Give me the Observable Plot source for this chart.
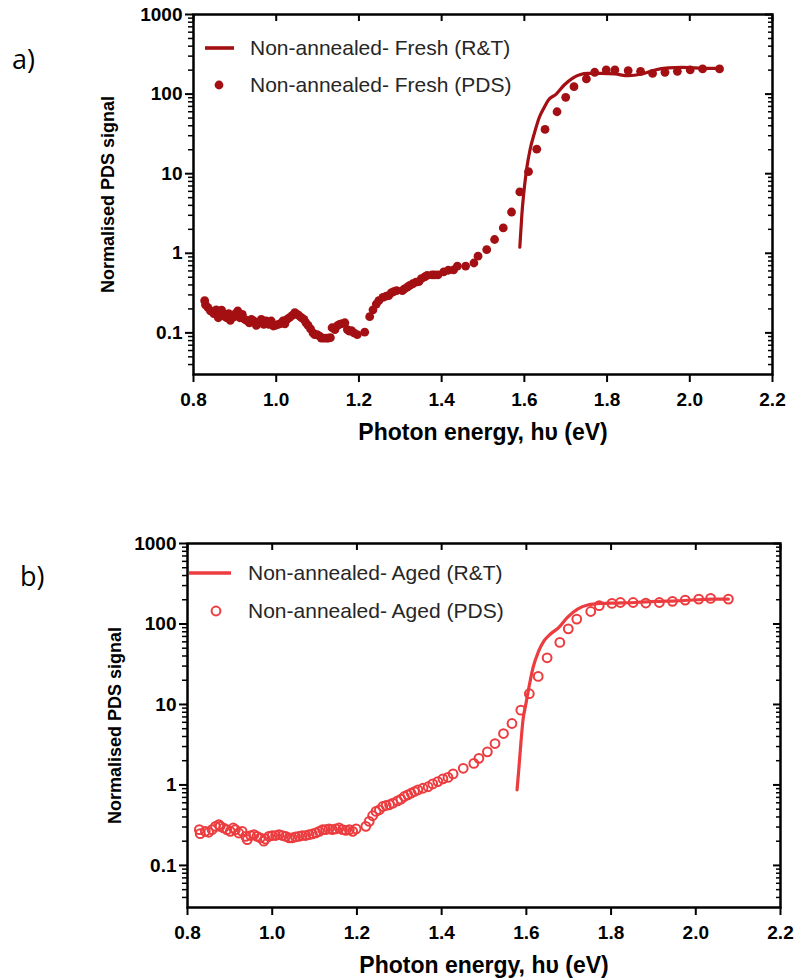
<!DOCTYPE html>
<html>
<head>
<meta charset="utf-8">
<script src="https://cdn.jsdelivr.net/npm/d3@7"></script>
<script src="https://cdn.jsdelivr.net/npm/@observablehq/plot@0.6"></script>
<style>
  body { margin: 0; background: #fff; }
  #page { position: relative; width: 794px; height: 980px; overflow: hidden; font-family: "Liberation Sans", Arial, sans-serif; }
  .panel { position: absolute; left: 0; }
  .tag { position: absolute; font-family: "Open Sans", "Liberation Sans", sans-serif; font-size: 27px; line-height: 1; color: #000; }
  .legend { position: absolute; font-family: "Liberation Sans", Arial, sans-serif; font-size: 21px; color: #262626; }
  .legend .row { position: absolute; white-space: nowrap; line-height: 1; }
  .legend svg { position: absolute; overflow: visible; }
</style>
</head>
<body>
<div id="page"></div>
<script>
// ---------------- data ----------------
const xTicks = [0.8, 1.0, 1.2, 1.4, 1.6, 1.8, 2.0, 2.2];
const yMajor = [0.1, 1, 10, 100, 1000];
const yMinor = [0.04, 0.05, 0.06, 0.07, 0.08, 0.09, 0.2, 0.3, 0.4, 0.5, 0.6, 0.7, 0.8, 0.9,
  2, 3, 4, 5, 6, 7, 8, 9, 20, 30, 40, 50, 60, 70, 80, 90, 200, 300, 400, 500, 600, 700, 800, 900];
const xTitle = "Photon energy, h\u03C5 (eV)";
const yTitle = "Normalised PDS signal";
const seriesNames = {
  freshLine: "Non-annealed- Fresh (R&T)",
  freshDots: "Non-annealed- Fresh (PDS)",
  agedLine: "Non-annealed- Aged (R&T)",
  agedDots: "Non-annealed- Aged (PDS)"
};

// Panel a: fresh, PDS points [energy eV, signal]
const freshPDS = [
  [0.827,0.254],[0.829,0.225],[0.835,0.208],[0.841,0.189],[0.849,0.175],[0.855,0.195],[0.860,0.155],[0.863,0.180],
  [0.868,0.193],[0.873,0.163],[0.880,0.155],[0.885,0.175],[0.889,0.144],[0.896,0.158],[0.902,0.175],[0.907,0.189],
  [0.912,0.155],[0.918,0.171],[0.924,0.148],[0.930,0.141],[0.935,0.134],[0.940,0.148],[0.946,0.141],[0.952,0.124],
  [0.958,0.134],[0.964,0.148],[0.970,0.128],[0.976,0.141],[0.982,0.128],[0.988,0.141],[0.993,0.122],[0.998,0.124],
  [1.005,0.128],[1.010,0.131],[1.016,0.141],[1.021,0.130],[1.026,0.148],[1.032,0.155],[1.039,0.166],[1.045,0.180],
  [1.051,0.171],[1.056,0.163],[1.061,0.155],[1.067,0.148],[1.072,0.134],[1.077,0.124],[1.083,0.112],[1.089,0.100],
  [1.093,0.095],[1.099,0.095],[1.105,0.091],[1.109,0.086],[1.115,0.086],[1.121,0.086],[1.126,0.086],[1.131,0.087],
  [1.135,0.116],[1.142,0.110],[1.147,0.122],[1.153,0.128],[1.159,0.131],[1.166,0.134],[1.172,0.110],[1.177,0.105],
  [1.182,0.107],[1.188,0.100],[1.196,0.095],[1.214,0.102],[1.226,0.160],[1.234,0.195],[1.242,0.230],[1.248,0.254],
  [1.258,0.280],[1.266,0.290],[1.272,0.294],[1.278,0.318],[1.284,0.330],[1.291,0.340],[1.305,0.340],[1.310,0.357],
  [1.317,0.375],[1.323,0.394],[1.330,0.414],[1.338,0.435],[1.345,0.440],[1.351,0.480],[1.359,0.504],[1.365,0.529],
  [1.377,0.535],[1.383,0.535],[1.391,0.535],[1.405,0.583],[1.416,0.612],[1.429,0.620],[1.438,0.690],[1.458,0.690],
  [1.478,0.755],[1.488,0.920],[1.509,1.11],[1.528,1.49],[1.549,2.08],[1.569,3.3],[1.589,5.9],[1.610,10.6],
  [1.630,20.3],[1.650,36],[1.679,60],[1.700,91],[1.720,124],[1.750,155],[1.770,188],[1.798,201],
  [1.819,201],[1.851,197],[1.881,193],[1.910,182],[1.940,188],[1.970,193],[2.001,201],[2.031,207],[2.072,207]
];
// Panel a: fresh, R&T curve
const freshRT = [
  [1.589,1.19],[1.594,3.07],[1.600,6.7],[1.606,11.9],[1.614,20.3],[1.624,31.9],[1.636,50.8],[1.648,68],
  [1.658,84],[1.677,100],[1.697,131],[1.717,159],[1.734,175],[1.754,182],[1.786,182],[1.819,179],
  [1.851,170],[1.884,179],[1.916,201],[1.948,213],[1.981,217],[2.013,213],[2.046,211],[2.072,211]
];
// Panel b: aged, PDS points
const agedPDS = [
  [0.828,0.278],[0.830,0.248],[0.842,0.265],[0.850,0.258],[0.858,0.278],[0.866,0.306],[0.874,0.321],[0.877,0.306],
  [0.885,0.292],[0.893,0.278],[0.901,0.265],[0.908,0.292],[0.913,0.278],[0.921,0.253],[0.929,0.265],[0.937,0.230],
  [0.941,0.209],[0.949,0.235],[0.957,0.241],[0.964,0.230],[0.972,0.220],[0.980,0.200],[0.984,0.213],[0.992,0.230],
  [1.000,0.235],[1.008,0.235],[1.016,0.241],[1.024,0.235],[1.032,0.230],[1.040,0.220],[1.047,0.220],[1.055,0.226],
  [1.063,0.230],[1.071,0.235],[1.079,0.235],[1.087,0.241],[1.095,0.246],[1.103,0.254],[1.111,0.265],[1.119,0.278],
  [1.126,0.278],[1.134,0.284],[1.142,0.278],[1.150,0.284],[1.158,0.292],[1.166,0.278],[1.174,0.273],[1.182,0.278],
  [1.190,0.265],[1.198,0.284],[1.221,0.306],[1.229,0.352],[1.237,0.414],[1.245,0.469],[1.253,0.491],[1.261,0.540],
  [1.269,0.556],[1.277,0.567],[1.285,0.594],[1.296,0.634],[1.304,0.665],[1.312,0.718],[1.320,0.753],[1.328,0.789],
  [1.336,0.828],[1.344,0.868],[1.356,0.910],[1.368,0.950],[1.379,1.03],[1.391,1.10],[1.403,1.19],[1.415,1.24],
  [1.427,1.37],[1.451,1.61],[1.476,1.85],[1.488,2.14],[1.508,2.58],[1.526,3.27],[1.546,4.35],[1.566,5.8],
  [1.587,8.5],[1.607,13.6],[1.628,22.3],[1.649,38],[1.679,59],[1.699,87],[1.719,115],[1.752,143],
  [1.772,169],[1.802,180],[1.822,185],[1.852,185],[1.882,182],[1.914,185],[1.945,191],[1.975,198],
  [2.007,204],[2.035,208],[2.077,204]
];
// Panel b: aged, R&T curve
const agedRT = [
  [1.578,0.87],[1.582,1.53],[1.587,3.27],[1.592,6.4],[1.599,10.2],[1.607,17.3],[1.616,29],[1.628,44.6],
  [1.642,62],[1.657,75],[1.677,91],[1.697,121],[1.721,153],[1.745,172],[1.777,180],[1.810,182],
  [1.858,185],[1.906,191],[1.955,194],[2.003,200],[2.043,204],[2.077,204]
];

const colorFresh = "#a30f12";
const colorAged = "#ec3c3f";

// ---------------- drawing ----------------
const FONT = "Liberation Sans, Arial, Helvetica, sans-serif";

function makePanel({pds, rt, color, openDots, marginLeft, marginRight, marginBottom, plotH, yTitleDx}) {
  const ink = "#000";
  return Plot.plot({
    width: 794,
    height: 14 + plotH + marginBottom,
    marginTop: 14,
    marginBottom,
    marginLeft,
    marginRight,
    style: {fontFamily: FONT, color: ink, background: "transparent", overflow: "visible"},
    x: {domain: [0.8, 2.2]},
    y: {type: "log", domain: [0.03, 1000]},
    marks: [
      Plot.axisY(yMajor, {anchor: "left", tickSize: 8, tickPadding: 3, strokeWidth: 2,
        tickFormat: d => String(d), fontSize: 19, fontWeight: "bold", label: null}),
      Plot.axisY(yMinor, {anchor: "left", tickSize: 5, strokeWidth: 1.5, fill: "none", label: null}),
      Plot.axisY(yMajor, {anchor: "right", tickSize: 8, insetRight: 8, strokeWidth: 2, fill: "none", label: null}),
      Plot.axisY(yMinor, {anchor: "right", tickSize: 5, insetRight: 5, strokeWidth: 1.5, fill: "none", label: null}),
      Plot.axisX(xTicks, {anchor: "bottom", tickSize: 8, tickPadding: 10, strokeWidth: 2,
        tickFormat: d3.format(".1f"), fontSize: 19, fontWeight: "bold", label: null}),
      Plot.axisX(xTicks, {anchor: "top", tickSize: 6, insetTop: 6, strokeWidth: 2, fill: "none", label: null}),
      Plot.frame({stroke: ink, strokeWidth: 2.5}),
      Plot.line(rt, {x: d => d[0], y: d => d[1], stroke: color, strokeWidth: 3.2, curve: "monotone-x"}),
      openDots
        ? Plot.dot(pds, {x: d => d[0], y: d => d[1], r: 4.4, stroke: color, strokeWidth: 2, fill: "none"})
        : Plot.dot(pds, {x: d => d[0], y: d => d[1], r: 4.4, fill: color, stroke: "none"}),
      Plot.text([xTitle], {frameAnchor: "bottom", dy: 58, lineAnchor: "middle", textAnchor: "middle", text: d => d,
        fontSize: 23, fontWeight: "bold", fill: ink}),
      Plot.text([yTitle], {frameAnchor: "left", dx: yTitleDx, rotate: -90, lineAnchor: "middle", textAnchor: "middle",
        text: d => d, fontSize: 18, fontWeight: "bold", fill: ink})
    ]
  });
}

function legend(parent, {top, color, lineLabel, dotLabel, lineX1, lineX2, dotX, textX, gap, openDots}) {
  const lg = document.createElement("div");
  lg.className = "legend";
  lg.style.top = top + "px";
  lg.style.left = "0px";
  const ns = "http://www.w3.org/2000/svg";
  const svg = document.createElementNS(ns, "svg");
  svg.setAttribute("width", 794); svg.setAttribute("height", 80);
  svg.style.left = "0px"; svg.style.top = "0px";
  const ln = document.createElementNS(ns, "line");
  ln.setAttribute("x1", lineX1); ln.setAttribute("x2", lineX2);
  ln.setAttribute("y1", 0); ln.setAttribute("y2", 0);
  ln.setAttribute("stroke", color); ln.setAttribute("stroke-width", 3.6);
  svg.appendChild(ln);
  const c = document.createElementNS(ns, "circle");
  c.setAttribute("cx", dotX); c.setAttribute("cy", gap); c.setAttribute("r", 4.4);
  if (openDots) { c.setAttribute("fill", "none"); c.setAttribute("stroke", color); c.setAttribute("stroke-width", 2); }
  else c.setAttribute("fill", color);
  svg.appendChild(c);
  lg.appendChild(svg);
  [[lineLabel, 0], [dotLabel, gap]].forEach(([t, y]) => {
    const r = document.createElement("div");
    r.className = "row";
    r.textContent = t;
    r.style.left = textX + "px";
    r.style.top = (y - 11) + "px";
    lg.appendChild(r);
  });
  parent.appendChild(lg);
}

const page = document.getElementById("page");

const pa = document.createElement("div");
pa.className = "panel"; pa.style.top = "0px";
pa.appendChild(makePanel({pds: freshPDS, rt: freshRT, color: colorFresh, openDots: false,
  marginLeft: 193, marginRight: 22, marginBottom: 80, plotH: 360, yTitleDx: -85}));
page.appendChild(pa);

const pb = document.createElement("div");
pb.className = "panel"; pb.style.top = "529px";
pb.appendChild(makePanel({pds: agedPDS, rt: agedRT, color: colorAged, openDots: true,
  marginLeft: 187, marginRight: 14, marginBottom: 70, plotH: 364, yTitleDx: -72}));
page.appendChild(pb);

legend(page, {top: 48, color: colorFresh, lineLabel: seriesNames.freshLine, dotLabel: seriesNames.freshDots,
  lineX1: 205, lineX2: 234, dotX: 219, textX: 250, gap: 37, openDots: false});
legend(page, {top: 573, color: colorAged, lineLabel: seriesNames.agedLine, dotLabel: seriesNames.agedDots,
  lineX1: 189, lineX2: 231, dotX: 216, textX: 248, gap: 38, openDots: true});

const ta = document.createElement("div");
ta.className = "tag"; ta.textContent = "a)"; ta.style.left = "12px"; ta.style.top = "45px";
page.appendChild(ta);
const tb = document.createElement("div");
tb.className = "tag"; tb.textContent = "b)"; tb.style.left = "20px"; tb.style.top = "562px";
page.appendChild(tb);
</script>
</body>
</html>
